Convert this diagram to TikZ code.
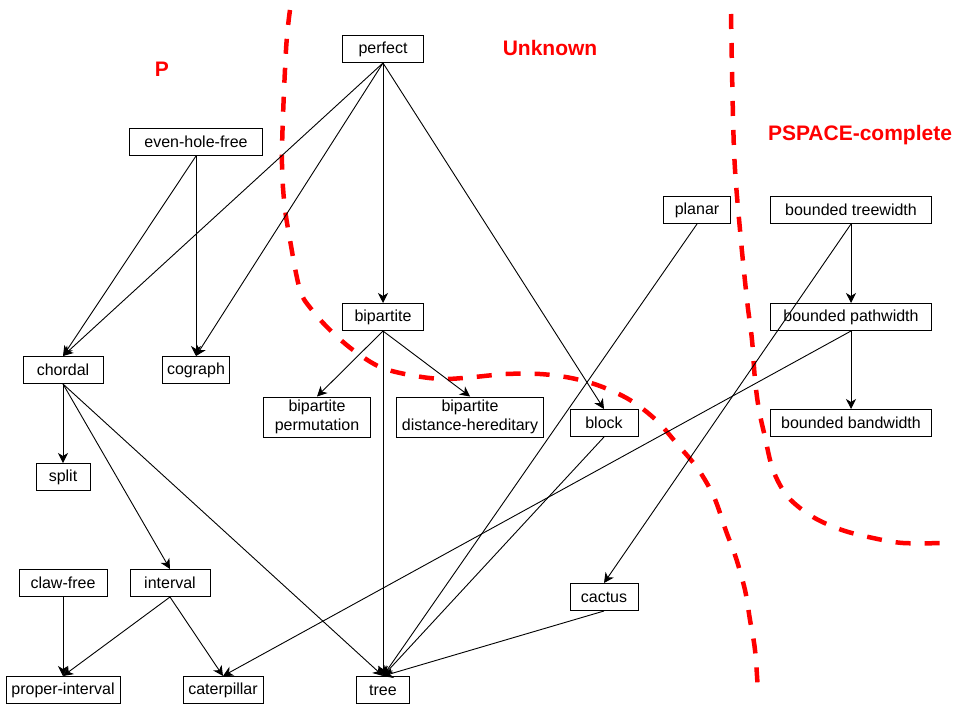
\documentclass[tikz,border=0pt]{standalone}
\usepackage{fontspec}
\setmainfont{Liberation Sans}
\usetikzlibrary{arrows.meta}
\begin{document}
\begin{tikzpicture}[x=1pt,y=-1pt,
  cls/.style={draw, rectangle, line width=1pt, inner sep=0pt, fill=white,
    font=\fontsize{16}{19}\selectfont, align=center, minimum height=27pt},
  edge/.style={line width=0.9pt, -{Stealth[length=10pt,width=10pt,inset=3pt]}},
  region/.style={text=red, font=\fontsize{21}{24}\selectfont\bfseries},
  border/.style={red, line width=4.5pt, dash pattern=on 15pt off 14pt}]
\useasboundingbox (0,0) rectangle (957,706);

% complexity borders
\draw[border] plot[smooth, tension=0.55] coordinates {
  (290,10) (286,50) (282,150) (284,200) (290,240) (300,290) (312,310)
  (330,330) (353,350) (380,367) (410,375) (442,379) (474,377) (506,374)
  (540,374) (571,378) (600,386) (630,400) (656,420) (678,445) (698,469)
  (714,497) (726,531) (736,558) (745,590) (750,620) (755,650) (758,692)};
\draw[border] plot[smooth, tension=0.55] coordinates {
  (731,14) (734,150) (740,230) (747,300) (752,340) (755,380) (759,410)
  (765,437) (773,470) (788,497) (813,517) (842,530) (873,538) (903,543)
  (945,543)};

% region labels
\node[region] (lblP) at (162,69) {P};
\node[region] (lblU) at (550,48) {Unknown};
\node[region] (lblS) at (860,135) {PSPACE-complete};

% graph classes
\node[cls, minimum width=81pt]  (perfect)  at (383,49)  {perfect};
\node[cls, minimum width=133pt] (ehf)      at (196,142) {even-hole-free};
\node[cls, minimum width=81pt]  (bip)      at (383,317) {bipartite};
\node[cls, minimum width=80pt]  (chordal)  at (63,370)  {chordal};
\node[cls, minimum width=67pt]  (cograph)  at (196,370) {cograph};
\node[cls, minimum width=54pt]  (split)    at (63,477)  {split};
\node[cls, minimum width=88pt]  (claw)     at (63,583)  {claw-free};
\node[cls, minimum width=80pt]  (interval) at (170,583) {interval};
\node[cls, minimum width=114pt] (proper)   at (63,690)  {proper-interval};
\node[cls, minimum width=80pt]  (cater)    at (223,690) {caterpillar};
\node[cls, minimum width=53pt]  (tree)     at (383,690) {tree};
\node[cls, minimum width=107pt, minimum height=40pt] (bperm) at (317,417) {bipartite\\permutation};
\node[cls, minimum width=147pt, minimum height=40pt] (bdh)   at (470,417) {bipartite\\distance-hereditary};
\node[cls, minimum width=68pt]  (block)    at (604,423) {block};
\node[cls, minimum width=68pt]  (cactus)   at (604,597) {cactus};
\node[cls, minimum width=67pt]  (planar)   at (697,210) {planar};
\node[cls, minimum width=161pt] (btw)      at (851,210) {bounded treewidth};
\node[cls, minimum width=161pt] (bpw)      at (851,317) {bounded pathwidth};
\node[cls, minimum width=161pt] (bbw)      at (851,423) {bounded bandwidth};

% inclusions
\draw[edge] (perfect.south) -- (chordal.north);
\draw[edge] (perfect.south) -- (cograph.north);
\draw[edge] (perfect.south) -- (bip.north);
\draw[edge] (perfect.south) -- (block.north);
\draw[edge] (ehf.south) -- (chordal.north);
\draw[edge] (ehf.south) -- (cograph.north);
\draw[edge] (bip.south) -- (bperm.north);
\draw[edge] (bip.south) -- (bdh.north);
\draw[edge] (bip.south) -- (tree.north);
\draw[edge] (chordal.south) -- (split.north);
\draw[edge] (chordal.south) -- (interval.north);
\draw[edge] (chordal.south) -- (tree.north);
\draw[edge] (claw.south) -- (proper.north);
\draw[edge] (interval.south) -- (proper.north);
\draw[edge] (interval.south) -- (cater.north);
\draw[edge] (planar.south) -- (tree.north);
\draw[edge] (block.south) -- (tree.north);
\draw[edge] (cactus.south) -- (tree.north);
\draw[edge] (btw.south) -- (bpw.north);
\draw[edge] (btw.south) -- (cactus.north);
\draw[edge] (bpw.south) -- (bbw.north);
\draw[edge] (bpw.south) -- (cater.north);
\end{tikzpicture}
\end{document}
